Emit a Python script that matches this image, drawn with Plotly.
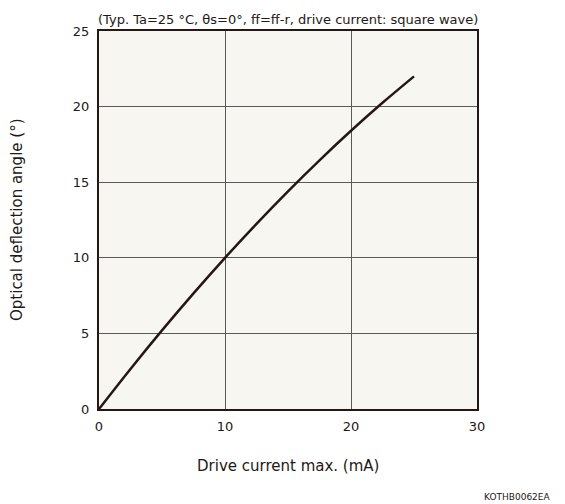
import plotly.graph_objects as go

drive_current_ma = [0, 2.5, 5, 7.5, 10, 12.5, 15, 17.5, 20, 22.5, 25]
deflection_deg = [0, 2.65, 5.2, 7.65, 10.0, 12.25, 14.4, 16.45, 18.4, 20.25, 22.0]

x_ticks = [0, 10, 20, 30]
y_ticks = [0, 5, 10, 15, 20, 25]

FONT = "DejaVu Sans"

fig = go.Figure()
fig.add_trace(go.Scatter(
    x=drive_current_ma, y=deflection_deg, mode="lines",
    line=dict(color="#231815", width=2.5, shape="spline"),
    showlegend=False, hoverinfo="skip",
))

fig.update_layout(
    width=565, height=504,
    margin=dict(l=99, r=88, t=31, b=95),
    paper_bgcolor="white",
    plot_bgcolor="#F7F6F0",
    font=dict(family=FONT, size=13, color="#231815"),
    xaxis=dict(
        range=[0, 30], tickvals=x_ticks, ticks="", showgrid=True,
        gridcolor="#5a5a5a", gridwidth=1, zeroline=False,
        showline=True, linecolor="#231815", linewidth=2, mirror=True,
        ticklabelstandoff=4, fixedrange=True,
    ),
    yaxis=dict(
        range=[0, 25], tickvals=y_ticks, ticks="", showgrid=True,
        gridcolor="#5a5a5a", gridwidth=1, zeroline=False,
        showline=True, linecolor="#231815", linewidth=2, mirror=True,
        ticklabelstandoff=5, fixedrange=True,
    ),
    annotations=[
        dict(text="(Typ. Ta=25 °C, θs=0°, ff=ff-r, drive current: square wave)",
             xref="paper", yref="paper", x=0.5, y=1.0, yshift=2,
             xanchor="center", yanchor="bottom", showarrow=False,
             font=dict(family=FONT, size=13, color="#231815")),
        dict(text="Optical deflection angle (°)",
             xref="paper", yref="paper", x=0, xshift=-82, y=0.5,
             xanchor="center", yanchor="middle", textangle=-90, showarrow=False,
             font=dict(family=FONT, size=15, color="#231815")),
        dict(text="Drive current max. (mA)",
             xref="paper", yref="paper", x=0.5, y=0, yshift=-57,
             xanchor="center", yanchor="middle", showarrow=False,
             font=dict(family=FONT, size=15, color="#231815")),
        dict(text="KOTHB0062EA",
             xref="paper", yref="paper", x=1, xshift=76, y=0, yshift=-88,
             xanchor="right", yanchor="middle", showarrow=False,
             font=dict(family=FONT, size=9, color="#231815")),
    ],
)

fig.write_html(
    "out.html",
    config={"displayModeBar": False},
    post_script="document.body.style.margin='0';document.body.style.padding='0';",
)
